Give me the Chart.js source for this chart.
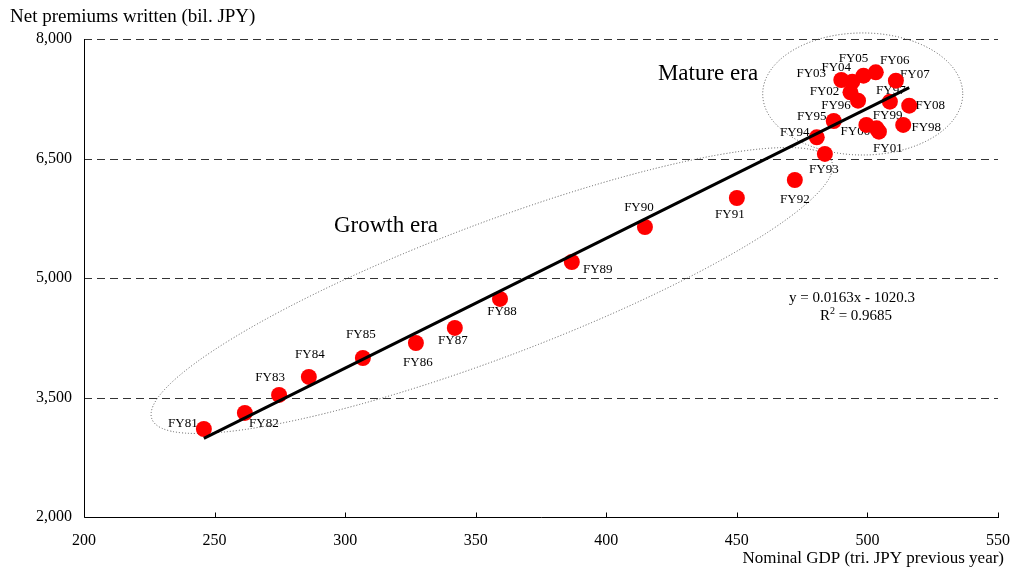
<!DOCTYPE html>
<html>
<head>
<meta charset="utf-8">
<script src="https://cdn.jsdelivr.net/npm/chart.js@4.4.1/dist/chart.umd.min.js"></script>
<style>
  html, body { margin: 0; padding: 0; background: #ffffff; }
  #wrap { width: 1014px; height: 568px; position: relative; }
</style>
</head>
<body>
<div id="wrap"><canvas id="chart" width="1014" height="568"></canvas></div>
<script>
// Fiscal years, previous-year nominal GDP (tri. JPY) and net premiums written (bil. JPY)
const fiscalYears = ['FY81','FY82','FY83','FY84','FY85','FY86','FY87','FY88','FY89','FY90',
                     'FY91','FY92','FY93','FY94','FY95','FY96','FY97','FY98','FY99','FY00',
                     'FY01','FY02','FY03','FY04','FY05','FY06','FY07','FY08'];
const gdpPrevYear = [245.9, 261.6, 274.7, 286.1, 306.8, 327.1, 342.0, 359.3, 386.8, 414.8,
                     450.0, 472.2, 483.7, 480.6, 487.1, 496.4, 508.6, 513.7, 503.5, 499.6,
                     504.4, 493.5, 490.0, 494.2, 498.5, 503.2, 510.9, 516.0];
const netPremiums = [3105, 3306, 3532, 3758, 3996, 4184, 4373, 4737, 5201, 5640,
                     6004, 6230, 6557, 6766, 6971, 7226, 7213, 6921, 6879, 6921,
                     6837, 7331, 7485, 7464, 7540, 7582, 7477, 7163];

const xTickValues = [200, 250, 300, 350, 400, 450, 500, 550];
const yTickValues = [2000, 3500, 5000, 6500, 8000];

// Linear fit, with x in bil. JPY
const trendSlope = 0.0163;
const trendIntercept = -1020.3;
const rSquared = 0.9685;

// Where each year's label sits relative to its dot (px)
const labelOffsets = [[-21,-5],[19,11],[-9,-17],[1,-22],[-2,-23],[2,20],[-2,13],[2,13],[26,8],[-6,-19],
                      [-7,17],[0,20],[-1,16],[-22,-5],[-22,-4],[-22,5],[1,-11],[23,3],[11,-13],[-11,7],
                      [9,17],[-26,-1],[-30,-6],[-16,-14],[-10,-17],[19,-12],[19,-6],[21,0]];

// Era outlines: growth era by its two tips (data) and half-width (px); mature era by centre and half extents (data)
const growthEra = { tipA: { x: 226.0, y: 3230 }, tipB: { x: 486.4, y: 6456 }, halfWidthPx: 67 };
const matureEra = { cx: 498.2, cy: 7310, rx: 38.3, ry: 766 };

const SERIF = '"Liberation Serif", "Times New Roman", serif';

const trendY = gdp => trendSlope * gdp * 1000 + trendIntercept;
const gdpMin = Math.min(...gdpPrevYear);
const gdpMax = Math.max(...gdpPrevYear);

const scatterPoints = gdpPrevYear.map((x, i) => ({ x: x, y: netPremiums[i] }));
const trendPoints = [{ x: gdpMin, y: trendY(gdpMin) }, { x: gdpMax, y: trendY(gdpMax) }];

const decorations = {
  id: 'decorations',
  beforeDatasetsDraw(chart) {
    const { ctx, chartArea, scales } = chart;
    const xs = scales.x, ys = scales.y;
    ctx.save();

    // dashed horizontal gridlines
    ctx.strokeStyle = '#333333';
    ctx.lineWidth = 1;
    ctx.setLineDash([8, 5]);
    yTickValues.forEach(v => {
      if (v === ys.min) return;
      const py = Math.round(ys.getPixelForValue(v)) + 0.5;
      ctx.beginPath();
      ctx.moveTo(chartArea.left, py);
      ctx.lineTo(chartArea.right, py);
      ctx.stroke();
    });
    ctx.setLineDash([]);

    // axis lines
    const x0 = Math.round(chartArea.left) + 0.5;
    const y0 = Math.round(chartArea.bottom) + 0.5;
    ctx.strokeStyle = '#000000';
    ctx.beginPath();
    ctx.moveTo(x0, Math.round(chartArea.top));
    ctx.lineTo(x0, y0);
    ctx.lineTo(Math.round(chartArea.right) + 1, y0);
    ctx.stroke();

    // inward tick marks on the x axis
    xTickValues.forEach(v => {
      const px = Math.round(xs.getPixelForValue(v)) + 0.5;
      ctx.beginPath();
      ctx.moveTo(px, y0);
      ctx.lineTo(px, y0 - 5);
      ctx.stroke();
    });

    // era outlines (dotted)
    ctx.strokeStyle = '#555555';
    ctx.setLineDash([1, 2]);
    const ax = xs.getPixelForValue(growthEra.tipA.x), ay = ys.getPixelForValue(growthEra.tipA.y);
    const bx = xs.getPixelForValue(growthEra.tipB.x), by = ys.getPixelForValue(growthEra.tipB.y);
    const gLen = Math.hypot(bx - ax, by - ay) / 2;
    ctx.beginPath();
    ctx.ellipse((ax + bx) / 2, (ay + by) / 2, gLen, growthEra.halfWidthPx, Math.atan2(by - ay, bx - ax), 0, Math.PI * 2);
    ctx.stroke();

    const mcx = xs.getPixelForValue(matureEra.cx), mcy = ys.getPixelForValue(matureEra.cy);
    const mrx = xs.getPixelForValue(matureEra.cx + matureEra.rx) - mcx;
    const mry = mcy - ys.getPixelForValue(matureEra.cy + matureEra.ry);
    ctx.beginPath();
    ctx.ellipse(mcx, mcy, mrx, mry, 0, 0, Math.PI * 2);
    ctx.stroke();
    ctx.setLineDash([]);

    // year labels beside the dots
    const meta = chart.getDatasetMeta(1);
    ctx.fillStyle = '#000000';
    ctx.font = '13px ' + SERIF;
    ctx.textAlign = 'center';
    ctx.textBaseline = 'middle';
    meta.data.forEach((pt, i) => {
      const off = labelOffsets[i];
      ctx.fillText(fiscalYears[i], pt.x + off[0], pt.y + off[1]);
    });
    ctx.restore();
  },
  afterDraw(chart) {
    const { ctx } = chart;
    ctx.save();
    ctx.fillStyle = '#000000';
    ctx.textBaseline = 'middle';

    // axis titles
    ctx.font = '19px ' + SERIF;
    ctx.textAlign = 'left';
    ctx.fillText('Net premiums written (bil. JPY)', 10, 17);
    ctx.font = '17px ' + SERIF;
    ctx.textAlign = 'right';
    ctx.fillText('Nominal GDP (tri. JPY previous year)', 1004, 559);

    // era names
    ctx.font = '23px ' + SERIF;
    ctx.textAlign = 'center';
    ctx.fillText('Growth era', 386, 226);
    ctx.fillText('Mature era', 708, 74);

    // regression equation
    ctx.font = '15px ' + SERIF;
    ctx.textAlign = 'center';
    ctx.fillText('y = ' + trendSlope + 'x - ' + Math.abs(trendIntercept), 852, 298);
    const rest = ' = ' + rSquared;
    const wR = ctx.measureText('R').width;
    const wRest = ctx.measureText(rest).width;
    ctx.font = '10px ' + SERIF;
    const wSup = ctx.measureText('2').width;
    const startX = 856 - (wR + wSup + wRest) / 2;
    ctx.textAlign = 'left';
    ctx.font = '15px ' + SERIF;
    ctx.fillText('R', startX, 316);
    ctx.font = '10px ' + SERIF;
    ctx.fillText('2', startX + wR, 311);
    ctx.font = '15px ' + SERIF;
    ctx.fillText(rest, startX + wR + wSup, 316);
    ctx.restore();
  }
};

new Chart(document.getElementById('chart'), {
  data: {
    datasets: [
      {
        type: 'line',
        data: trendPoints,
        borderColor: '#000000',
        borderWidth: 3,
        pointRadius: 0,
        fill: false,
        order: 0
      },
      {
        type: 'scatter',
        data: scatterPoints,
        backgroundColor: '#ff0000',
        borderWidth: 0,
        pointRadius: 8,
        pointHoverRadius: 8,
        order: 1
      }
    ]
  },
  options: {
    responsive: false,
    animation: false,
    devicePixelRatio: 1,
    events: [],
    layout: { padding: { top: 39, right: 16, left: 0, bottom: 0 } },
    plugins: { legend: { display: false }, tooltip: { enabled: false } },
    scales: {
      x: {
        type: 'linear',
        min: 200,
        max: 550,
        afterFit: s => { s.height = 51; s.paddingLeft = 0; s.paddingRight = 0; },
        afterBuildTicks: s => { s.ticks = xTickValues.map(v => ({ value: v })); },
        grid: { display: false, drawTicks: false, tickLength: 0 },
        border: { display: false },
        ticks: { color: '#000000', font: { family: SERIF, size: 16 }, padding: 14, maxRotation: 0 }
      },
      y: {
        type: 'linear',
        min: 2000,
        max: 8000,
        afterFit: s => { s.width = 84; s.paddingTop = 0; s.paddingBottom = 0; },
        afterBuildTicks: s => { s.ticks = yTickValues.map(v => ({ value: v })); },
        grid: { display: false, drawTicks: false, tickLength: 0 },
        border: { display: false },
        ticks: {
          color: '#000000',
          font: { family: SERIF, size: 16 },
          padding: 12,
          callback: v => v.toLocaleString('en-US')
        }
      }
    }
  },
  plugins: [decorations]
});
</script>
</body>
</html>
